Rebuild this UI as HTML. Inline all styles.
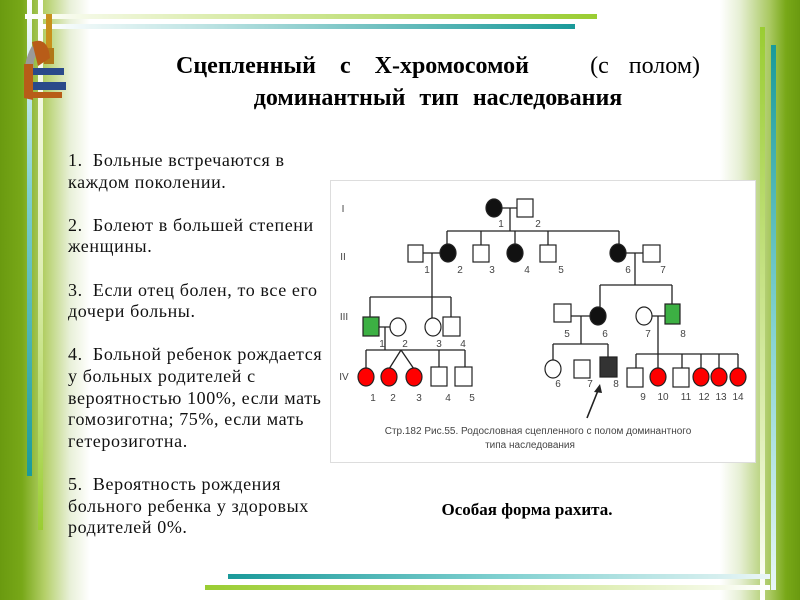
<!DOCTYPE html>
<html><head><meta charset="utf-8"><style>
body{margin:0;width:800px;height:600px;overflow:hidden;position:relative;background:#fff;font-family:"Liberation Serif",serif}
.a{position:absolute}
.txt{left:68px;top:150px;font-size:18px;letter-spacing:0.6px;line-height:21.6px;color:#111;white-space:pre}
</style></head><body>
<div class="a" style="left:0;top:0;width:90px;height:600px;background:linear-gradient(90deg,#6a9a10 0,#78a818 22px,#b5d06a 45px,#e8f0d8 70px,#fff 90px)"></div>
<div class="a" style="left:720px;top:0;width:80px;height:600px;background:linear-gradient(90deg,#fff 0,#e6efd4 20px,#a9c860 50px,#78a818 66px,#6a9a10 80px)"></div>
<div class="a" style="left:27px;top:0;width:5px;height:476px;background:linear-gradient(#fff,#7fd0d0 40%,#1a9a9a)"></div>
<div class="a" style="left:38px;top:0;width:5px;height:530px;background:linear-gradient(#fff,#dfeeb5 50%,#9acd32)"></div>
<div class="a" style="left:25px;top:14px;width:572px;height:5px;background:linear-gradient(90deg,#fff,#dfeeb5 30%,#9acd32)"></div>
<div class="a" style="left:40px;top:24px;width:535px;height:5px;background:linear-gradient(90deg,#fff,#bfe4e4 30%,#1a9a9a)"></div>
<div class="a" style="left:760px;top:27px;width:5px;height:573px;background:linear-gradient(#9acd32,#dfeeb5 70%,#fff)"></div>
<div class="a" style="left:771px;top:45px;width:5px;height:545px;background:linear-gradient(#1a9a9a,#7fd0d0 50%,#e8f6f6)"></div>
<div class="a" style="left:228px;top:574px;width:542px;height:5px;background:linear-gradient(90deg,#1a9a9a,#7fd0d0 50%,#eaf6f6)"></div>
<div class="a" style="left:205px;top:585px;width:565px;height:5px;background:linear-gradient(90deg,#9acd32,#dfeeb5 70%,#fff)"></div>
<svg class="a" style="left:18px;top:8px" width="50" height="92" viewBox="0 0 50 92">
<path d="M14 38 Q4 55 8 75 L14 80 L16 60 Q14 50 22 44Z" fill="#9a9a9a"/>
<rect x="28" y="6" width="6" height="40" fill="#c8901c"/>
<rect x="26" y="40" width="10" height="16" fill="#b07818"/>
<path d="M14 34 Q30 28 32 50 L20 58Z" fill="#b85c18"/>
<rect x="12" y="60" width="34" height="7" fill="#2a4a8a"/>
<rect x="14" y="74" width="34" height="8" fill="#2a4a8a"/>
<path d="M6 56 L15 56 L15 92 L6 90Z" fill="#b85c18"/>
<rect x="12" y="84" width="32" height="6" fill="#b85c18"/>
</svg>
<div class="a" style="left:176px;top:52px;width:524px;font-size:24px;line-height:28px;font-weight:bold;display:flex;justify-content:space-between;white-space:pre;word-spacing:18px"><span>Сцепленный с Х-хромосомой</span><span style="font-weight:normal;word-spacing:14px">(с полом)</span></div>
<div class="a" style="left:176px;top:84px;width:524px;text-align:center;font-size:24px;line-height:28px;font-weight:bold;word-spacing:8px">доминантный тип наследования</div>
<div class="a txt">1.  Больные встречаются в
каждом поколении.

2.  Болеют в большей степени
женщины.

3.  Если отец болен, то все его
дочери больны.

4.  Больной ребенок рождается
у больных родителей с
вероятностью 100%, если мать
гомозиготна; 75%, если мать
гетерозиготна.

5.  Вероятность рождения
больного ребенка у здоровых
родителей 0%.</div>
<div class="a" style="left:417px;top:500px;width:220px;text-align:center;font-size:17px;font-weight:bold">Особая форма рахита.</div>
<svg class="a" style="left:0;top:0" width="800" height="600" font-family="Liberation Sans,sans-serif" font-size="10" fill="#444">
<rect x="330.5" y="180.5" width="425" height="282" fill="#fff" stroke="#ddd"/>
<g stroke="#222" stroke-width="1.3" fill="none">
<path d="M502 208H517M510 208V231M447 231H619M447 231V244M481 231V245M515 231V244M548 231V245M619 231V244"/>
<path d="M423 253H440M432 253V297M370 297H451M370 297V317M432 297V318M451 297V317"/>
<path d="M379 327H390M385 327V350M366 350H465M366 350V369M401 350L389 369M401 350L414 369M439 350V367M465 350V367"/>
<path d="M626 253H643M635 253V285M600 285H672M600 285V307M672 285V304"/>
<path d="M571 316H590M581 316V344M553 344H608M553 344V360M608 344V357"/>
<path d="M652 316H665M658 316V354M636 354H738M636 354V368M658 354V369M682 354V368M701 354V369M719 354V369M738 354V369"/>
<path d="M587 418L599 388" stroke-width="1.6"/>
</g>
<path d="M600 384L594 392L602 393Z" fill="#222"/>
<g stroke="#222" stroke-width="1.2">
<ellipse cx="494" cy="208" rx="8" ry="9" fill="#111"/>
<rect x="517" y="199" width="16" height="18" fill="#fff"/>
<rect x="408" y="245" width="15" height="17" fill="#fff"/>
<ellipse cx="448" cy="253" rx="8" ry="9" fill="#111"/>
<rect x="473" y="245" width="16" height="17" fill="#fff"/>
<ellipse cx="515" cy="253" rx="8" ry="9" fill="#111"/>
<rect x="540" y="245" width="16" height="17" fill="#fff"/>
<ellipse cx="618" cy="253" rx="8" ry="9" fill="#111"/>
<rect x="643" y="245" width="17" height="17" fill="#fff"/>
<rect x="363" y="317" width="16" height="19" fill="#3cb043"/>
<ellipse cx="398" cy="327" rx="8" ry="9" fill="#fff"/>
<ellipse cx="433" cy="327" rx="8" ry="9" fill="#fff"/>
<rect x="443" y="317" width="17" height="19" fill="#fff"/>
<rect x="554" y="304" width="17" height="18" fill="#fff"/>
<ellipse cx="598" cy="316" rx="8" ry="9" fill="#111"/>
<ellipse cx="644" cy="316" rx="8" ry="9" fill="#fff"/>
<rect x="665" y="304" width="15" height="20" fill="#3cb043"/>
<ellipse cx="366" cy="377" rx="8" ry="9" fill="#f00"/>
<ellipse cx="389" cy="377" rx="8" ry="9" fill="#f00"/>
<ellipse cx="414" cy="377" rx="8" ry="9" fill="#f00"/>
<rect x="431" y="367" width="16" height="19" fill="#fff"/>
<rect x="455" y="367" width="17" height="19" fill="#fff"/>
<ellipse cx="553" cy="369" rx="8" ry="9" fill="#fff"/>
<rect x="574" y="360" width="16" height="18" fill="#fff"/>
<rect x="600" y="357" width="17" height="20" fill="#333"/>
<rect x="627" y="368" width="16" height="19" fill="#fff"/>
<ellipse cx="658" cy="377" rx="8" ry="9" fill="#f00"/>
<rect x="673" y="368" width="16" height="19" fill="#fff"/>
<ellipse cx="701" cy="377" rx="8" ry="9" fill="#f00"/>
<ellipse cx="719" cy="377" rx="8" ry="9" fill="#f00"/>
<ellipse cx="738" cy="377" rx="8" ry="9" fill="#f00"/>
</g>
<g text-anchor="middle">
<text x="343" y="212">I</text><text x="343" y="260">II</text><text x="344" y="320">III</text><text x="344" y="380">IV</text>
<text x="501" y="227">1</text><text x="538" y="227">2</text>
<text x="427" y="273">1</text><text x="460" y="273">2</text><text x="492" y="273">3</text><text x="527" y="273">4</text><text x="561" y="273">5</text><text x="628" y="273">6</text><text x="663" y="273">7</text>
<text x="382" y="347">1</text><text x="405" y="347">2</text><text x="439" y="347">3</text><text x="463" y="347">4</text>
<text x="567" y="337">5</text><text x="605" y="337">6</text><text x="648" y="337">7</text><text x="683" y="337">8</text>
<text x="373" y="401">1</text><text x="393" y="401">2</text><text x="419" y="401">3</text><text x="448" y="401">4</text><text x="472" y="401">5</text>
<text x="558" y="387">6</text><text x="590" y="387">7</text><text x="616" y="387">8</text>
<text x="643" y="400">9</text><text x="663" y="400">10</text><text x="686" y="400">11</text><text x="704" y="400">12</text><text x="721" y="400">13</text><text x="738" y="400">14</text>
<text x="538" y="434" font-size="10">Стр.182 Рис.55. Родословная сцепленного с полом доминантного</text>
<text x="530" y="448" font-size="10">типа наследования</text>
</g>
</svg>
</body></html>
